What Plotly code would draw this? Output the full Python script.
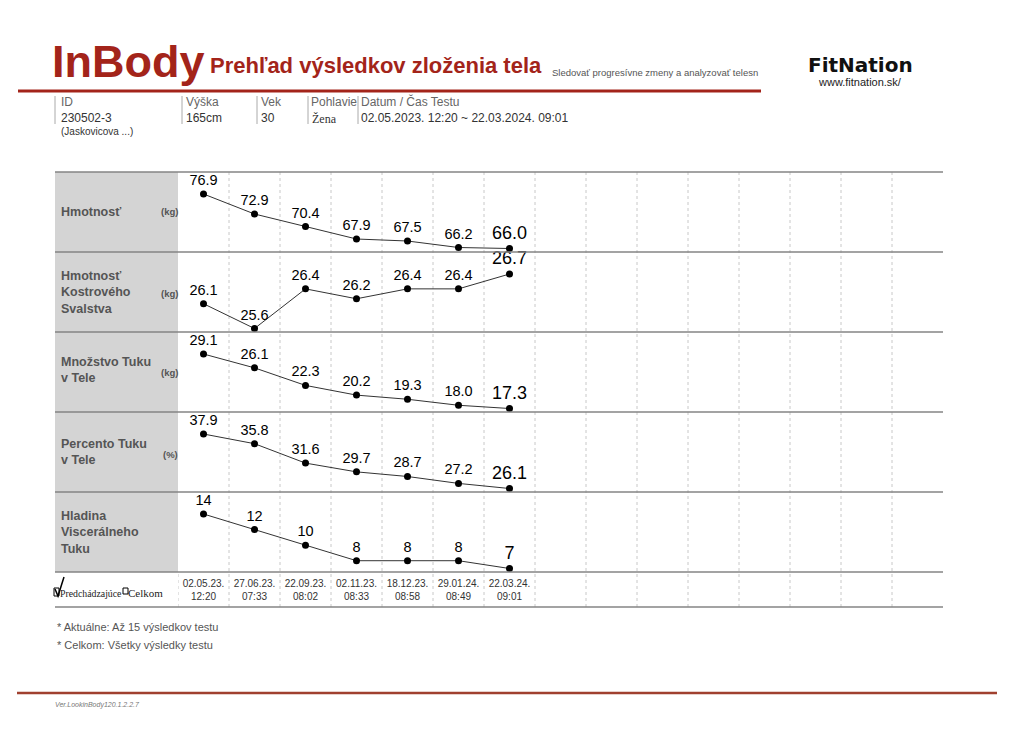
import plotly.graph_objects as go

# ---------------- data ----------------
dates = ["02.05.23.", "27.06.23.", "22.09.23.", "02.11.23.", "18.12.23.", "29.01.24.", "22.03.24."]
times = ["12:20", "07:33", "08:02", "08:33", "08:58", "08:49", "09:01"]
weight = [76.9, 72.9, 70.4, 67.9, 67.5, 66.2, 66.0]
skeletal_muscle = [26.1, 25.6, 26.4, 26.2, 26.4, 26.4, 26.7]
fat_mass = [29.1, 26.1, 22.3, 20.2, 19.3, 18.0, 17.3]
fat_percent = [37.9, 35.8, 31.6, 29.7, 28.7, 27.2, 26.1]
visceral = [14, 12, 10, 8, 8, 8, 7]
row_labels = ["Hmotnosť", "Hmotnosť<br>Kostrového<br>Svalstva", "Množstvo Tuku<br>v Tele",
              "Percento Tuku<br>v Tele", "Hladina<br>Viscerálneho<br>Tuku"]
row_units = ["(kg)", "(kg)", "(kg)", "(%)", ""]
decimals = [1, 1, 1, 1, 0]
max_tests = 15

series = [weight, skeletal_muscle, fat_mass, fat_percent, visceral]

# ---------------- layout helpers ----------------
W, H = 1024, 730
def px(x): return x / W
def py(y): return 1 - y / H

TABLE_L, GRID_L, GRID_R = 55, 178, 943
TOP, ROW_H = 172, 80
DATE_B = 607
RED = "#a3241a"
FONT = "Arial, Liberation Sans, sans-serif"
SERIF = "Liberation Serif, Times New Roman, serif"

fig = go.Figure()
layout_axes = {}
for i, vals in enumerate(series):
    top = TOP + i * ROW_H
    bot = top + ROW_H
    lo_v, hi_v = min(vals), max(vals)
    total = (hi_v - lo_v) * ROW_H / 54.5
    lo = lo_v - 3.5 / ROW_H * total
    hi = lo + total
    yname = "y" if i == 0 else f"y{i+1}"
    axkey = "yaxis" if i == 0 else f"yaxis{i+1}"
    layout_axes[axkey] = dict(domain=[py(bot), py(top)], range=[lo, hi], visible=False,
                              anchor="x", fixedrange=True)
    fmt = [f"{v:.{decimals[i]}f}" for v in vals]
    sizes = [14.5] * (len(vals) - 1) + [18]
    fig.add_trace(go.Scatter(
        x=list(range(len(vals))), y=vals, xaxis="x", yaxis=yname,
        mode="lines+markers+text", text=fmt, textposition="top center",
        textfont=dict(size=sizes, color="black", family=FONT),
        marker=dict(color="black", size=7),
        line=dict(color="#333333", width=1),
        cliponaxis=False, showlegend=False, hoverinfo="skip"))

shapes = []
# gray label panel
shapes.append(dict(type="rect", xref="paper", yref="paper", x0=px(TABLE_L), x1=px(GRID_L),
                   y0=py(TOP + 5 * ROW_H), y1=py(TOP), fillcolor="#d4d4d4", line_width=0, layer="below"))
# dotted column separators
for k in range(max_tests - 1):
    shapes.append(dict(type="line", xref="x", yref="paper", x0=k + 0.5, x1=k + 0.5,
                       y0=py(DATE_B), y1=py(TOP), line=dict(color="#c8c8c8", width=1, dash="dot"),
                       layer="below"))
shapes.append(dict(type="line", xref="x", yref="paper", x0=-0.5, x1=-0.5,
                   y0=py(DATE_B), y1=py(TOP + 5 * ROW_H), line=dict(color="#c8c8c8", width=1, dash="dot")))
# horizontal row lines
for y in [TOP + r * ROW_H for r in range(6)] + [DATE_B]:
    shapes.append(dict(type="line", xref="paper", yref="paper", x0=px(TABLE_L), x1=px(GRID_R),
                       y0=py(y), y1=py(y), line=dict(color="#858585", width=1.5)))
# header red line
shapes.append(dict(type="line", xref="paper", yref="paper", x0=px(18), x1=px(761),
                   y0=py(91), y1=py(91), line=dict(color=RED, width=3)))
# footer line
shapes.append(dict(type="line", xref="paper", yref="paper", x0=px(17), x1=px(997),
                   y0=py(693), y1=py(693), line=dict(color="#a0402f", width=2.5)))
# info separators
for x in [55, 182, 257, 308, 358]:
    shapes.append(dict(type="line", xref="paper", yref="paper", x0=px(x), x1=px(x),
                       y0=py(124), y1=py(96), line=dict(color="#aaaaaa", width=1)))
# checkboxes
shapes.append(dict(type="rect", xref="paper", yref="paper", x0=px(54), x1=px(59),
                   y0=py(596), y1=py(588), line=dict(color="black", width=1)))
shapes.append(dict(type="path", xref="paper", yref="paper",
                   path=f"M {px(55)} {py(589)} L {px(58)} {py(596)} L {px(64)} {py(577)}",
                   line=dict(color="black", width=1.5)))
shapes.append(dict(type="rect", xref="paper", yref="paper", x0=px(123), x1=px(128),
                   y0=py(594), y1=py(588), line=dict(color="black", width=1)))

ann = []
def text(x, y, s, size, color="#333333", family=FONT, xanchor="left", bold=False, italic=False):
    if bold:
        s = f"<b>{s}</b>"
    if italic:
        s = f"<i>{s}</i>"
    ann.append(dict(x=px(x), y=py(y), xref="paper", yref="paper", text=s, showarrow=False,
                    xanchor=xanchor, yanchor="middle", align="left",
                    font=dict(size=size, color=color, family=family)))

# header
text(50, 62, "InBody", 45, RED, bold=True)
text(208, 66, "Prehľad výsledkov zloženia tela", 22, RED, bold=True)
text(550, 73, "Sledovať progresívne zmeny a analyzovať telesn", 9.5, "#555555")
text(860, 65, "FitNation", 20, "#111111", family="DejaVu Sans, sans-serif", xanchor="center", bold=True)
text(860, 82, "www.fitnation.sk/", 11, "#222222", xanchor="center")

# info row
for x, lab in zip([59, 184, 259, 309, 359], ["ID", "Výška", "Vek", "Pohlavie", "Datum / Čas Testu"]):
    text(x, 102, lab, 12, "#666666")
text(59, 118, "230502-3", 12, "#333333")
text(184, 118, "165cm", 12, "#333333")
text(259, 118, "30", 12, "#333333")
text(310, 119, "Žena", 12, "#333333", family=SERIF)
text(359, 118, "02.05.2023. 12:20 ~ 22.03.2024. 09:01", 12, "#333333")
text(59, 131, "(Jaskovicova ...)", 10, "#333333")

# row labels
label_y = [212, 292, 370, 452, 532]
unit_y = [212, 293, 373, 454, 532]
for i in range(5):
    text(59, label_y[i], row_labels[i], 12.5, "#555555", bold=True)
    if row_units[i]:
        text(180, unit_y[i], row_units[i], 9.5, "#555555", xanchor="right", bold=True)

# check labels
text(58, 593, "Predchádzajúce", 9.8, "#222222", family=SERIF)
text(126, 593, "Celkom", 11, "#222222", family=SERIF)

# footnotes
text(55, 627, "* Aktuálne: Až 15 výsledkov testu", 11, "#555555")
text(55, 645, "* Celkom: Všetky výsledky testu", 11, "#555555")
text(53, 705, "Ver.LookinBody120.1.2.2.7", 7, "#777777", italic=True)

fig.update_layout(
    width=W, height=H, margin=dict(l=0, r=0, t=0, b=0),
    paper_bgcolor="white", plot_bgcolor="rgba(0,0,0,0)",
    showlegend=False,
    xaxis=dict(domain=[px(GRID_L), px(GRID_R)], range=[-0.5, max_tests - 0.5], anchor="y5",
               tickvals=list(range(len(dates))),
               ticktext=[f"{d}<br>{t}" for d, t in zip(dates, times)],
               tickfont=dict(size=10, color="#333333", family=FONT),
               showgrid=False, zeroline=False, showline=False,
               ticks="outside", ticklen=2, tickcolor="rgba(0,0,0,0)", fixedrange=True),
    shapes=shapes, annotations=ann,
    **layout_axes)

fig.write_html("out.html")
